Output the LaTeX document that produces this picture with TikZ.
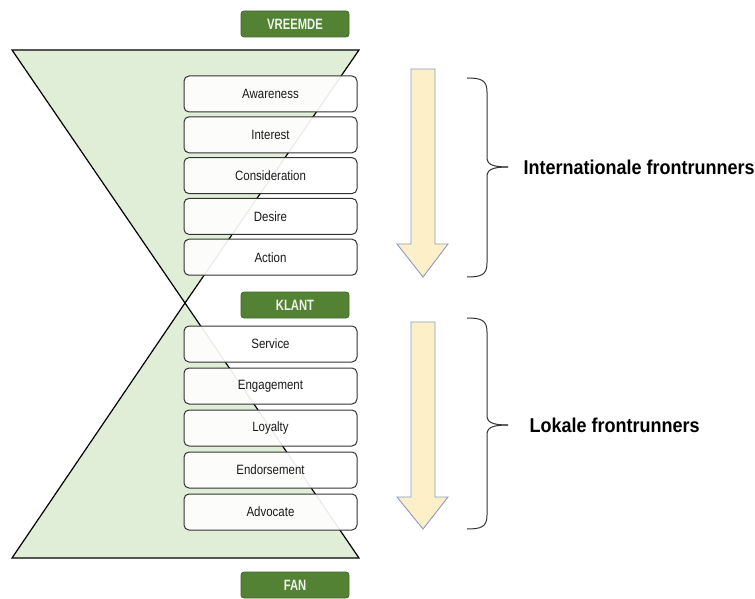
\documentclass[tikz,border=0pt]{standalone}
\usepackage{fontspec}
\setmainfont{Liberation Sans}
\usetikzlibrary{positioning}
\definecolor{funnelgreen}{HTML}{E0EED8}
\definecolor{stagegreen}{HTML}{548235}
\definecolor{stageedge}{HTML}{41682A}
\definecolor{arrowfill}{HTML}{FDEFC8}
\definecolor{arrowedge}{HTML}{8A9AC0}
\newcommand{\narrow}[2][0.85]{\scalebox{#1}[1]{#2}}
\tikzstyle{funnel} = [fill=funnelgreen, draw=black, line width=1.2pt, line join=miter]
\tikzset{
    phase/.style={
        rectangle, rounded corners=5pt, minimum width=173pt, minimum height=36pt, draw=black!80, line width=1pt, fill=white, fill opacity=0.92, text opacity=1, text=black!90, font=\fontsize{13.5}{15}\selectfont
    },
    stage/.style={
        rectangle, rounded corners=3pt, minimum width=108pt, minimum height=26pt, draw=stageedge, line width=0.8pt, fill=stagegreen, text=white!90!stagegreen, font=\fontsize{15}{17}\selectfont\bfseries
    },
    flow/.style={
        fill=arrowfill, draw=arrowedge, line width=0.9pt
    },
    bracket/.style={
        draw=black!80, line width=1pt
    },
    group/.style={
        anchor=west, font=\fontsize{20}{24}\selectfont\bfseries
    }
}

\begin{document}
\begin{tikzpicture}[x=1pt, y=-1pt]

    \useasboundingbox (0,0) rectangle (755,599);

    % Hourglass
    \draw[funnel] (12,50) -- (359,50) -- (185,303) -- cycle;
    \draw[funnel] (12,558) -- (359,558) -- (185,303) -- cycle;

    % Stages
    \node[stage] (vreemde) at (295,24) {\narrow[0.75]{VREEMDE}};
    \node[stage] (klant) at (295,305) {\narrow[0.75]{KLANT}};
    \node[stage] (fan) at (295,585) {\narrow[0.75]{FAN}};

    % Phases before the customer
    \node[phase] (awareness) at (270.5,94) {\narrow{Awareness}};
    \node[phase, below=3.8pt of awareness] (interest) {\narrow{Interest}};
    \node[phase, below=3.8pt of interest] (consideration) {\narrow{Consideration}};
    \node[phase, below=3.8pt of consideration] (desire) {\narrow{Desire}};
    \node[phase, below=3.8pt of desire] (action) {\narrow{Action}};

    % Phases after the customer
    \node[phase] (service) at (270.5,344) {\narrow{Service}};
    \node[phase, below=5pt of service] (engagement) {\narrow{Engagement}};
    \node[phase, below=5pt of engagement] (loyalty) {\narrow{Loyalty}};
    \node[phase, below=5pt of loyalty] (endorsement) {\narrow{Endorsement}};
    \node[phase, below=5pt of endorsement] (advocate) {\narrow{Advocate}};

    % Arrows
    \draw[flow] (411,69) -- (435,69) -- (435,244) -- (448,244) -- (423,277) -- (397,244) -- (411,244) -- cycle;
    \draw[flow] (411,322) -- (435,322) -- (435,497) -- (448,497) -- (423,529) -- (397,497) -- (411,497) -- cycle;

    % Braces
    \draw[bracket] (467,78) .. controls (481,78) and (487,80) .. (487,92) -- (487,157)
        .. controls (487,164) and (491,167) .. (508,167);
    \draw[bracket] (508,167) .. controls (491,167) and (487,170) .. (487,177) -- (487,263)
        .. controls (487,275) and (481,277) .. (467,277);
    \draw[bracket] (467,318) .. controls (481,318) and (487,320) .. (487,332) -- (487,415)
        .. controls (487,422) and (491,425) .. (508,425);
    \draw[bracket] (508,425) .. controls (491,425) and (487,428) .. (487,435) -- (487,515)
        .. controls (487,527) and (481,529) .. (467,529);

    % Groups
    \node[group] (intl) at (520,167) {\narrow[0.9]{Internationale frontrunners}};
    \node[group] (lokaal) at (526,425) {\narrow[0.9]{Lokale frontrunners}};

\end{tikzpicture}
\end{document}
